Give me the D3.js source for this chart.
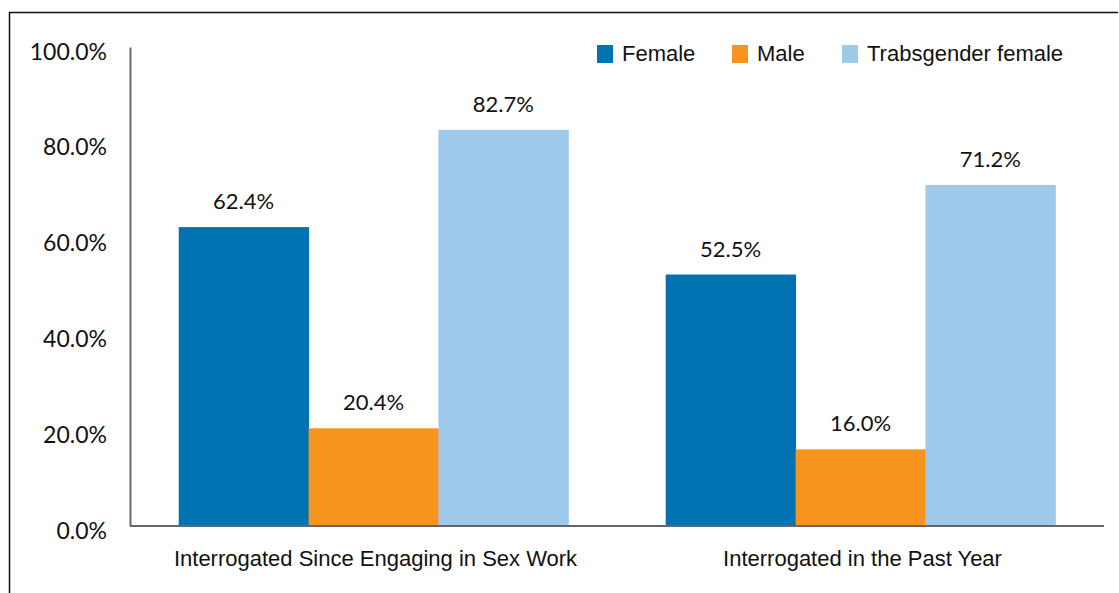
<!DOCTYPE html>
<html>
<head>
  <meta charset="utf-8">
  <title>Interrogated by police</title>
  <script src="https://cdn.jsdelivr.net/npm/d3@7"></script>
  <style type="text/css">
    body { margin: 0; background: #fff; }
  </style>
</head>
<body>
  <div id="chart"></div>
  <script type="text/javascript">
    // data
    var categories = ['Interrogated Since Engaging in Sex Work', 'Interrogated in the Past Year'];
    var seriesNames = ['Female', 'Male', 'Trabsgender female'];
    var female = [62.4, 52.5];
    var male = [20.4, 16.0];
    var transFemale = [82.7, 71.2];
    var yTicks = [0, 20, 40, 60, 80, 100];
    var colors = ['#0072b1', '#f7941e', '#9fc9eb'];

    var series = [female, male, transFemale];

    var W = 1119, H = 593;
    var svg = d3.select('#chart')
      .append('svg')
      .attr('width', W)
      .attr('height', H);

    // frame (top and left edges only)
    svg.append('path')
      .attr('d', 'M9.5,593 L9.5,12.5 L1118,12.5')
      .attr('fill', 'none')
      .attr('stroke', '#111')
      .attr('stroke-width', 1.5);

    var plotLeft = 130, plotRight = 1104, plotTop = 47, plotBottom = 526;

    var x0 = d3.scaleBand()
      .domain(categories)
      .range([plotLeft, plotRight])
      .paddingInner(0.2)
      .paddingOuter(0.1);

    var x1 = d3.scaleBand()
      .domain(seriesNames)
      .range([0, x0.bandwidth()]);

    var y = d3.scaleLinear()
      .domain([0, 100])
      .range([plotBottom, plotTop]);

    // bars
    var groups = svg.selectAll('g.group')
      .data(categories)
      .enter()
      .append('g')
      .attr('class', 'group')
      .attr('transform', function(d) { return 'translate(' + x0(d) + ',0)'; });

    groups.selectAll('rect')
      .data(function(d, i) {
        return seriesNames.map(function(s, j) { return { name: s, value: series[j][i], idx: j }; });
      })
      .enter()
      .append('rect')
      .attr('x', function(d) { return x1(d.name); })
      .attr('y', function(d) { return y(d.value); })
      .attr('width', x1.bandwidth() + 0.5)
      .attr('height', function(d) { return y(0) - y(d.value); })
      .attr('fill', function(d) { return colors[d.idx]; });

    groups.selectAll('text.val')
      .data(function(d, i) {
        return seriesNames.map(function(s, j) { return { name: s, value: series[j][i] }; });
      })
      .enter()
      .append('text')
      .attr('class', 'val')
      .attr('x', function(d) { return x1(d.name) + x1.bandwidth() / 2; })
      .attr('y', function(d) { return y(d.value) - 18; })
      .attr('text-anchor', 'middle')
      .style('font-family', 'Lato, "Open Sans", sans-serif')
      .style('font-size', '22px')
      .style('fill', '#111')
      .text(function(d) { return d.value.toFixed(1) + '%'; });

    // y axis
    var yAxis = svg.append('g')
      .attr('transform', 'translate(' + plotLeft + ',0)')
      .call(d3.axisLeft(y).tickValues(yTicks).tickSize(0).tickPadding(23)
        .tickFormat(function(d) { return d.toFixed(1) + '%'; }));
    yAxis.select('.domain').attr('stroke', '#666').attr('stroke-width', 2);
    yAxis.selectAll('text')
      .attr('dy', 12)
      .style('font-family', 'Lato, "Open Sans", sans-serif')
      .style('font-size', '23px')
      .style('fill', '#111');

    // x axis
    var xAxis = svg.append('g')
      .attr('transform', 'translate(0,' + plotBottom + ')')
      .call(d3.axisBottom(x0).tickSize(0).tickPadding(24));
    xAxis.select('.domain')
      .attr('d', 'M' + plotLeft + ',0H' + plotRight)
      .attr('stroke', '#666').attr('stroke-width', 2);
    xAxis.selectAll('text')
      .attr('dx', 2)
      .style('font-family', '"Liberation Sans", Arial, sans-serif')
      .style('font-size', '22px')
      .style('fill', '#111');

    // legend
    var legendX = [597, 732, 842];
    var legend = svg.selectAll('g.legend')
      .data(seriesNames)
      .enter()
      .append('g')
      .attr('class', 'legend')
      .attr('transform', function(d, i) { return 'translate(' + legendX[i] + ',45)'; });
    legend.append('rect')
      .attr('width', 16)
      .attr('height', 18)
      .attr('fill', function(d, i) { return colors[i]; });
    legend.append('text')
      .attr('x', 25)
      .attr('y', 16)
      .style('font-family', '"Liberation Sans", Arial, sans-serif')
      .style('font-size', '22px')
      .style('fill', '#111')
      .text(function(d) { return d; });
  </script>
</body>
</html>
